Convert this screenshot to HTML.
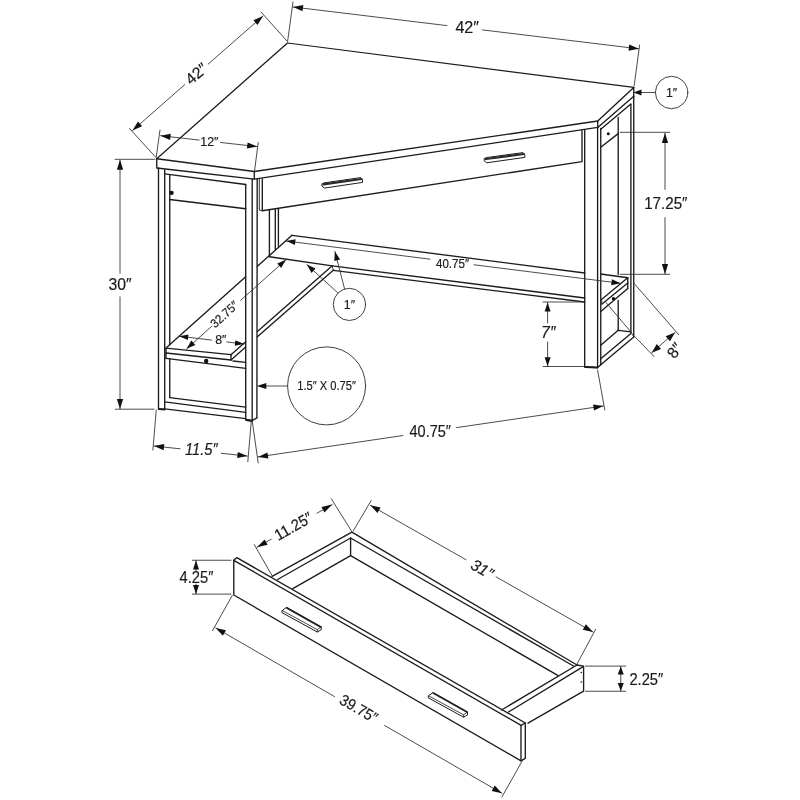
<!DOCTYPE html>
<html><head><meta charset="utf-8"><title>Corner desk dimensions</title>
<style>
html,body{margin:0;padding:0;background:#fff;}
body{width:800px;height:800px;overflow:hidden;}
svg{display:block;filter:grayscale(1);}
text{font-family:"Liberation Sans",sans-serif;fill:#1a1a1a;stroke:#1a1a1a;}
</style></head><body>
<svg width="800" height="800" viewBox="0 0 800 800" stroke-linecap="round" stroke-linejoin="round">
<rect width="800" height="800" fill="#fff"/>
<path d="M156.75 158.75 L287.50 43.00 L633.75 87.40" stroke="#1c1c1c" stroke-width="1.25" fill="none"/>
<path d="M633.75 87.40 L597.75 121.00 L254.30 171.50 L156.75 158.75" stroke="#1c1c1c" stroke-width="1.35" fill="none"/>
<path d="M156.75 158.75 L156.75 168.00 L254.30 179.20 L597.75 127.40" stroke="#1c1c1c" stroke-width="1.35" fill="none"/>
<path d="M254.30 171.50 L254.30 179.20" stroke="#1c1c1c" stroke-width="1.35" fill="none"/>
<path d="M597.75 121.00 L597.75 127.40" stroke="#1c1c1c" stroke-width="1.35" fill="none"/>
<path d="M597.75 127.40 L633.75 96.30" stroke="#1c1c1c" stroke-width="1.35" fill="none"/>
<path d="M633.75 87.40 L633.75 96.30" stroke="#1c1c1c" stroke-width="1.35" fill="none"/>
<path d="M158.50 168.00 L158.50 409.00 L164.70 409.30" stroke="#1c1c1c" stroke-width="1.35" fill="none"/>
<path d="M164.70 170.00 L164.70 409.00" stroke="#1c1c1c" stroke-width="1.35" fill="none"/>
<path d="M169.75 175.50 L169.75 344.80" stroke="#1c1c1c" stroke-width="1.35" fill="none"/>
<path d="M169.75 359.00 L169.75 397.60" stroke="#1c1c1c" stroke-width="1.35" fill="none"/>
<path d="M245.70 184.50 L245.70 419.60" stroke="#1c1c1c" stroke-width="1.35" fill="none"/>
<path d="M252.20 179.20 L252.20 420.60" stroke="#1c1c1c" stroke-width="1.35" fill="none"/>
<path d="M257.20 179.20 L256.90 417.80" stroke="#1c1c1c" stroke-width="1.35" fill="none"/>
<path d="M245.70 419.60 L252.20 420.60 L256.90 417.80" stroke="#1c1c1c" stroke-width="1.35" fill="none"/>
<path d="M246.30 419.90 L252.00 420.80" stroke="#1c1c1c" stroke-width="2.2" fill="none"/>
<path d="M159.00 409.00 L164.40 409.40" stroke="#1c1c1c" stroke-width="2.0" fill="none"/>
<path d="M164.70 173.80 L245.70 184.50" stroke="#1c1c1c" stroke-width="1.35" fill="none"/>
<path d="M169.75 199.50 L245.70 208.75" stroke="#1c1c1c" stroke-width="1.35" fill="none"/>
<circle cx="171.6" cy="192.9" r="2.1" fill="#111"/>
<path d="M169.75 397.60 L245.70 407.10" stroke="#1c1c1c" stroke-width="1.35" fill="none"/>
<path d="M164.70 401.90 L245.70 412.40" stroke="#1c1c1c" stroke-width="1.35" fill="none"/>
<path d="M164.70 408.90 L245.70 418.60" stroke="#1c1c1c" stroke-width="1.35" fill="none"/>
<path d="M166.00 358.40 L245.70 368.40" stroke="#1c1c1c" stroke-width="1.35" fill="none"/>
<path d="M166.00 348.30 L166.00 358.40" stroke="#1c1c1c" stroke-width="1.35" fill="none"/>
<path d="M233.00 361.00 L245.70 362.30" stroke="#1c1c1c" stroke-width="1.35" fill="none"/>
<circle cx="206.2" cy="361" r="2.2" fill="#111"/>
<path d="M292.00 235.30 L584.70 273.00" stroke="#1c1c1c" stroke-width="1.35" fill="none"/>
<path d="M600.75 274.00 L627.75 277.75" stroke="#1c1c1c" stroke-width="1.35" fill="none"/>
<path d="M292.00 235.30 L257.40 266.28" stroke="#1c1c1c" stroke-width="1.35" fill="none"/>
<path d="M245.70 276.75 L166.00 348.10" stroke="#1c1c1c" stroke-width="1.35" fill="none"/>
<path d="M166.00 348.10 L231.00 354.70" stroke="#1c1c1c" stroke-width="1.35" fill="none"/>
<path d="M166.00 353.00 L231.00 360.00" stroke="#1c1c1c" stroke-width="1.35" fill="none"/>
<path d="M231.00 354.70 L231.00 360.00" stroke="#1c1c1c" stroke-width="1.35" fill="none"/>
<path d="M231.00 354.70 L245.70 341.80" stroke="#1c1c1c" stroke-width="1.35" fill="none"/>
<path d="M257.40 331.53 L332.25 265.85" stroke="#1c1c1c" stroke-width="1.35" fill="none"/>
<path d="M231.00 360.00 L245.70 347.11" stroke="#1c1c1c" stroke-width="1.35" fill="none"/>
<path d="M257.40 336.85 L333.30 270.30" stroke="#1c1c1c" stroke-width="1.35" fill="none"/>
<path d="M269.40 256.75 L332.25 265.85 L584.70 298.04" stroke="#1c1c1c" stroke-width="1.35" fill="none"/>
<path d="M333.30 270.30 L584.70 302.03" stroke="#1c1c1c" stroke-width="1.35" fill="none"/>
<path d="M332.25 265.85 L333.30 270.30" stroke="#1c1c1c" stroke-width="0.8" fill="none"/>
<path d="M269.40 210.50 L269.40 256.20" stroke="#1c1c1c" stroke-width="1.35" fill="none"/>
<path d="M275.30 209.60 L275.30 249.50" stroke="#1c1c1c" stroke-width="1.35" fill="none"/>
<path d="M278.40 209.20 L278.40 246.30" stroke="#1c1c1c" stroke-width="1.35" fill="none"/>
<path d="M259.30 179.30 L259.30 210.20 L262.30 210.75" stroke="#1c1c1c" stroke-width="0.9" fill="none"/>
<path d="M262.30 179.00 L262.30 210.75 L582.00 161.60 L582.00 130.60" stroke="#1c1c1c" stroke-width="1.35" fill="none"/>
<path d="M322.25 183.75 L324.00 182.90 L360.75 177.60 L362.50 179.80 L362.50 182.40 L324.40 188.10 L322.25 186.40 Z" stroke="#1c1c1c" stroke-width="1.0" fill="#fff"/>
<path d="M323.60 184.30 L361.50 179.00" stroke="#2a2a2a" stroke-width="2.2" fill="none"/>
<path d="M484.55 158.45 L486.30 157.60 L523.05 152.60 L524.80 154.80 L524.80 157.40 L486.70 162.80 L484.55 161.10 Z" stroke="#1c1c1c" stroke-width="1.0" fill="#fff"/>
<path d="M485.90 159.00 L523.80 154.00" stroke="#2a2a2a" stroke-width="2.2" fill="none"/>
<path d="M584.70 130.20 L584.70 367.00 L597.60 367.60 L600.75 364.75" stroke="#1c1c1c" stroke-width="1.35" fill="none"/>
<path d="M585.30 367.10 L597.30 367.60" stroke="#1c1c1c" stroke-width="2.0" fill="none"/>
<path d="M597.60 127.40 L597.60 367.60" stroke="#1c1c1c" stroke-width="1.35" fill="none"/>
<path d="M600.75 128.50 L600.75 364.75" stroke="#1c1c1c" stroke-width="1.35" fill="none"/>
<path d="M618.20 117.50 L618.20 274.50" stroke="#1c1c1c" stroke-width="1.35" fill="none"/>
<path d="M618.20 300.50 L618.20 330.30" stroke="#1c1c1c" stroke-width="1.35" fill="none"/>
<path d="M630.90 104.50 L630.90 332.00" stroke="#1c1c1c" stroke-width="1.35" fill="none"/>
<path d="M633.75 96.30 L633.75 337.00 L600.75 364.75" stroke="#1c1c1c" stroke-width="1.35" fill="none"/>
<path d="M600.75 129.25 L630.90 104.00" stroke="#1c1c1c" stroke-width="1.35" fill="none"/>
<path d="M600.75 147.25 L618.20 133.60" stroke="#1c1c1c" stroke-width="1.35" fill="none"/>
<circle cx="608.3" cy="133.8" r="1.5" fill="#111"/>
<path d="M600.75 345.30 L618.20 330.30 L630.90 331.80" stroke="#1c1c1c" stroke-width="1.35" fill="none"/>
<path d="M600.75 358.80 L630.90 333.40" stroke="#1c1c1c" stroke-width="1.35" fill="none"/>
<path d="M630.90 331.80 L633.75 337.00" stroke="#1c1c1c" stroke-width="0.8" fill="none"/>
<path d="M627.75 277.75 L601.50 299.50" stroke="#1c1c1c" stroke-width="1.35" fill="none"/>
<path d="M627.75 277.75 L627.75 288.50" stroke="#1c1c1c" stroke-width="1.35" fill="none"/>
<path d="M627.75 283.00 L602.00 304.00" stroke="#1c1c1c" stroke-width="1.35" fill="none"/>
<path d="M627.75 288.50 L600.75 311.50" stroke="#1c1c1c" stroke-width="1.35" fill="none"/>
<path d="M601.50 299.50 L602.00 304.00" stroke="#1c1c1c" stroke-width="0.8" fill="none"/>
<circle cx="613.5" cy="298.8" r="1.8" fill="#111"/>
<path d="M606.00 302.50 L630.75 331.75" stroke="#383838" stroke-width="0.9" fill="none"/>
<path d="M155.50 157.00 L129.50 128.50" stroke="#383838" stroke-width="0.9" fill="none"/>
<path d="M287.00 41.00 L261.00 12.00" stroke="#383838" stroke-width="0.9" fill="none"/>
<path d="M132.50 130.50 L184.70 84.70" stroke="#383838" stroke-width="0.9" fill="none"/>
<path d="M208.19 64.09 L263.00 16.00" stroke="#383838" stroke-width="0.9" fill="none"/>
<path d="M132.50 130.50 L137.97 121.57 L142.06 126.23 Z" fill="#111"/>
<path d="M263.00 16.00 L257.53 24.93 L253.44 20.27 Z" fill="#111"/>
<text x="0" y="5.61" text-anchor="middle" style="font-size:15.8px;stroke-width:0.18px;" transform="translate(196.30 73.60) rotate(-41) scale(1.02 1)">42″</text>
<path d="M287.60 41.50 L293.00 2.00" stroke="#383838" stroke-width="0.9" fill="none"/>
<path d="M634.20 85.50 L639.60 45.00" stroke="#383838" stroke-width="0.9" fill="none"/>
<path d="M293.00 7.00 L446.88 25.60" stroke="#383838" stroke-width="0.9" fill="none"/>
<path d="M482.50 29.91 L638.80 48.80" stroke="#383838" stroke-width="0.9" fill="none"/>
<path d="M293.00 7.00 L303.30 5.12 L302.56 11.28 Z" fill="#111"/>
<path d="M638.80 48.80 L628.50 50.68 L629.24 44.52 Z" fill="#111"/>
<text x="0" y="5.61" text-anchor="middle" style="font-size:15.8px;stroke-width:0.18px;" transform="translate(467.20 27.40) scale(1.02 1)">42″</text>
<path d="M156.20 157.50 L160.00 130.00" stroke="#383838" stroke-width="0.9" fill="none"/>
<path d="M254.60 170.50 L258.20 142.50" stroke="#383838" stroke-width="0.9" fill="none"/>
<path d="M160.50 135.70 L199.18 140.06" stroke="#383838" stroke-width="0.9" fill="none"/>
<path d="M220.45 142.46 L257.20 146.60" stroke="#383838" stroke-width="0.9" fill="none"/>
<path d="M160.50 135.70 L170.78 133.74 L170.09 139.90 Z" fill="#111"/>
<path d="M257.20 146.60 L246.92 148.56 L247.61 142.40 Z" fill="#111"/>
<text x="0" y="4.40" text-anchor="middle" style="font-size:12.4px;stroke-width:0.18px;" transform="translate(209.40 141.40) scale(1.0 1)">12″</text>
<path d="M115.00 159.30 L155.00 159.30" stroke="#383838" stroke-width="0.9" fill="none"/>
<path d="M115.30 409.20 L154.00 409.20" stroke="#383838" stroke-width="0.9" fill="none"/>
<path d="M120.00 159.80 L120.00 273.14" stroke="#383838" stroke-width="0.9" fill="none"/>
<path d="M120.00 296.81 L120.00 408.90" stroke="#383838" stroke-width="0.9" fill="none"/>
<path d="M120.00 159.80 L123.10 169.80 L116.90 169.80 Z" fill="#111"/>
<path d="M120.00 408.90 L116.90 398.90 L123.10 398.90 Z" fill="#111"/>
<text x="0" y="5.61" text-anchor="middle" style="font-size:15.8px;stroke-width:0.18px;" transform="translate(120.00 284.00) scale(1.0 1)">30″</text>
<circle cx="671.6" cy="92.5" r="16.2" stroke="#2a2a2a" stroke-width="0.9" fill="#fff"/>
<path d="M655.40 92.50 L640.00 92.50" stroke="#383838" stroke-width="0.9" fill="none"/>
<path d="M633.50 92.50 L641.50 89.50 L641.50 95.50 Z" fill="#111"/>
<text x="0" y="4.40" text-anchor="middle" style="font-size:12.4px;stroke-width:0.18px;" transform="translate(671.60 92.60) scale(1.0 1)">1″</text>
<path d="M620.30 132.30 L669.80 132.30" stroke="#383838" stroke-width="0.9" fill="none"/>
<path d="M620.30 274.30 L669.80 274.30" stroke="#383838" stroke-width="0.9" fill="none"/>
<path d="M665.00 133.00 L665.00 189.40" stroke="#383838" stroke-width="0.9" fill="none"/>
<path d="M665.00 217.60 L665.00 274.00" stroke="#383838" stroke-width="0.9" fill="none"/>
<path d="M665.00 133.00 L668.10 143.00 L661.90 143.00 Z" fill="#111"/>
<path d="M665.00 274.00 L661.90 264.00 L668.10 264.00 Z" fill="#111"/>
<text x="0" y="5.61" text-anchor="middle" style="font-size:15.8px;stroke-width:0.18px;" transform="translate(665.80 203.00) scale(0.96 1)">17.25″</text>
<path d="M633.75 283.00 L678.75 334.75" stroke="#383838" stroke-width="0.9" fill="none"/>
<path d="M633.75 335.50 L654.00 356.50" stroke="#383838" stroke-width="0.9" fill="none"/>
<path d="M651.75 352.75 L675.00 332.50" stroke="#383838" stroke-width="0.9" fill="none"/>
<path d="M651.75 352.75 L656.75 344.02 L661.08 349.00 Z" fill="#111"/>
<path d="M675.00 332.50 L670.00 341.23 L665.67 336.25 Z" fill="#111"/>
<text x="0" y="5.61" text-anchor="middle" style="font-size:15.8px;stroke-width:0.18px;" transform="translate(674.60 350.30) rotate(-52) scale(1.0 1)">8″</text>
<path d="M543.00 302.00 L584.00 302.00" stroke="#383838" stroke-width="0.9" fill="none"/>
<path d="M543.00 366.50 L584.00 366.50" stroke="#383838" stroke-width="0.9" fill="none"/>
<path d="M547.60 302.40 L547.60 322.82" stroke="#383838" stroke-width="0.9" fill="none"/>
<path d="M547.60 341.96 L547.60 366.20" stroke="#383838" stroke-width="0.9" fill="none"/>
<path d="M547.60 302.40 L550.60 311.40 L544.60 311.40 Z" fill="#111"/>
<path d="M547.60 366.20 L544.60 357.20 L550.60 357.20 Z" fill="#111"/>
<text x="0" y="5.61" text-anchor="middle" style="font-size:15.8px;stroke-width:0.18px;font-style:italic;" transform="translate(548.30 332.50) scale(1.0 1)">7″</text>
<path d="M286.30 241.00 L430.00 259.19" stroke="#383838" stroke-width="0.9" fill="none"/>
<path d="M474.00 264.76 L620.50 283.30" stroke="#383838" stroke-width="0.9" fill="none"/>
<path d="M286.30 241.00 L295.61 239.15 L294.85 245.11 Z" fill="#111"/>
<path d="M620.50 283.30 L611.19 285.15 L611.95 279.19 Z" fill="#111"/>
<text x="0" y="4.40" text-anchor="middle" style="font-size:12.4px;stroke-width:0.18px;" transform="translate(452.50 263.40) scale(0.93 1)">40.75″</text>
<path d="M186.60 348.80 L211.92 326.11" stroke="#383838" stroke-width="0.9" fill="none"/>
<path d="M240.72 300.30 L285.90 259.80" stroke="#383838" stroke-width="0.9" fill="none"/>
<path d="M186.60 348.80 L191.30 340.56 L195.30 345.03 Z" fill="#111"/>
<path d="M285.90 259.80 L281.20 268.04 L277.20 263.57 Z" fill="#111"/>
<text x="0" y="4.40" text-anchor="middle" style="font-size:12.4px;stroke-width:0.18px;" transform="translate(224.20 314.20) rotate(-42) scale(0.93 1)">32.75″</text>
<path d="M179.20 336.20 L211.60 340.10" stroke="#383838" stroke-width="0.9" fill="none"/>
<path d="M226.83 341.93 L244.00 344.00" stroke="#383838" stroke-width="0.9" fill="none"/>
<path d="M179.20 336.20 L188.47 334.50 L187.80 340.06 Z" fill="#111"/>
<path d="M244.00 344.00 L234.73 345.70 L235.40 340.14 Z" fill="#111"/>
<text x="0" y="4.40" text-anchor="middle" style="font-size:12.4px;stroke-width:0.18px;" transform="translate(220.80 339.70) scale(1.0 1)">8″</text>
<circle cx="349.4" cy="304.4" r="16.1" stroke="#2a2a2a" stroke-width="0.9" fill="#fff"/>
<path d="M337.50 292.60 L306.90 264.60" stroke="#383838" stroke-width="0.9" fill="none"/>
<path d="M306.90 264.60 L315.56 268.46 L311.51 272.89 Z" fill="#111"/>
<path d="M344.50 288.60 L334.90 251.50" stroke="#383838" stroke-width="0.9" fill="none"/>
<path d="M334.90 251.50 L340.06 259.46 L334.25 260.96 Z" fill="#111"/>
<text x="0" y="4.40" text-anchor="middle" style="font-size:12.4px;stroke-width:0.18px;" transform="translate(349.40 304.60) scale(1.0 1)">1″</text>
<circle cx="326.6" cy="385.9" r="39" stroke="#2a2a2a" stroke-width="0.9" fill="#fff"/>
<path d="M287.60 386.00 L266.00 386.00" stroke="#383838" stroke-width="0.9" fill="none"/>
<path d="M256.80 386.00 L266.30 383.00 L266.30 389.00 Z" fill="#111"/>
<text x="0" y="4.26" text-anchor="middle" style="font-size:12.0px;stroke-width:0.18px;" transform="translate(326.60 385.80) scale(0.93 1)">1.5″ X 0.75″</text>
<path d="M156.25 410.00 L152.90 450.00" stroke="#383838" stroke-width="0.9" fill="none"/>
<path d="M251.20 422.40 L247.80 461.75" stroke="#383838" stroke-width="0.9" fill="none"/>
<path d="M154.00 446.00 L180.15 448.83" stroke="#383838" stroke-width="0.9" fill="none"/>
<path d="M221.25 453.27 L247.40 456.10" stroke="#383838" stroke-width="0.9" fill="none"/>
<path d="M154.00 446.00 L164.28 443.99 L163.61 450.16 Z" fill="#111"/>
<path d="M247.40 456.10 L237.12 458.11 L237.79 451.94 Z" fill="#111"/>
<text x="0" y="5.61" text-anchor="middle" style="font-size:15.8px;stroke-width:0.18px;font-style:italic;" transform="translate(201.25 449.80) scale(0.93 1)">11.5″</text>
<path d="M252.40 422.40 L258.20 462.90" stroke="#383838" stroke-width="0.9" fill="none"/>
<path d="M597.60 370.00 L604.80 410.00" stroke="#383838" stroke-width="0.9" fill="none"/>
<path d="M258.00 456.90 L403.07 435.52" stroke="#383838" stroke-width="0.9" fill="none"/>
<path d="M456.60 427.63 L603.40 406.00" stroke="#383838" stroke-width="0.9" fill="none"/>
<path d="M258.00 456.90 L267.44 452.38 L268.35 458.51 Z" fill="#111"/>
<path d="M603.40 406.00 L593.96 410.52 L593.05 404.39 Z" fill="#111"/>
<text x="0" y="5.54" text-anchor="middle" style="font-size:15.6px;stroke-width:0.18px;" transform="translate(430.20 431.70) scale(0.93 1)">40.75″</text>
<path d="M233.80 560.30 L233.80 595.00 L521.00 760.80 L521.00 725.30 Z" stroke="#1c1c1c" stroke-width="1.35" fill="none"/>
<path d="M233.80 560.30 L236.80 557.60 L525.30 723.00 L525.30 758.30 L521.00 760.80" stroke="#1c1c1c" stroke-width="1.35" fill="none"/>
<path d="M521.00 725.30 L525.30 723.00" stroke="#1c1c1c" stroke-width="1.35" fill="none"/>
<path d="M272.10 576.30 L351.90 532.20 L577.00 665.00" stroke="#1c1c1c" stroke-width="1.35" fill="none"/>
<path d="M577.00 665.00 L583.60 666.20 L583.60 691.20 L528.00 723.20" stroke="#1c1c1c" stroke-width="1.35" fill="none"/>
<path d="M577.00 665.00 L501.50 710.00" stroke="#1c1c1c" stroke-width="1.35" fill="none"/>
<path d="M583.20 666.60 L508.50 712.00" stroke="#1c1c1c" stroke-width="1.35" fill="none"/>
<path d="M277.60 579.50 L350.60 538.00 L573.50 666.00" stroke="#1c1c1c" stroke-width="1.35" fill="none"/>
<path d="M350.60 538.00 L350.60 555.60" stroke="#1c1c1c" stroke-width="1.35" fill="none"/>
<path d="M292.80 588.60 L350.60 555.60 L557.70 675.40" stroke="#1c1c1c" stroke-width="1.35" fill="none"/>
<circle cx="581.3" cy="672.5" r="0.8" fill="#111"/>
<circle cx="581.3" cy="682" r="0.8" fill="#111"/>
<path d="M282.30 610.60 L286.60 607.30 L321.20 626.80 L321.20 629.80 L317.30 632.00 L282.30 612.80 Z" stroke="#1c1c1c" stroke-width="1.0" fill="#fff"/>
<path d="M282.30 610.60 L317.30 629.60 L321.20 626.80" stroke="#1c1c1c" stroke-width="0.8" fill="none"/>
<path d="M317.30 629.60 L317.30 632.00" stroke="#1c1c1c" stroke-width="0.8" fill="none"/>
<path d="M286.90 607.90 L320.60 626.90" stroke="#222" stroke-width="1.7" fill="none"/>
<path d="M428.60 695.80 L432.90 692.50 L467.50 712.00 L467.50 715.00 L463.60 717.20 L428.60 698.00 Z" stroke="#1c1c1c" stroke-width="1.0" fill="#fff"/>
<path d="M428.60 695.80 L463.60 714.80 L467.50 712.00" stroke="#1c1c1c" stroke-width="0.8" fill="none"/>
<path d="M463.60 714.80 L463.60 717.20" stroke="#1c1c1c" stroke-width="0.8" fill="none"/>
<path d="M433.20 693.10 L466.90 712.10" stroke="#222" stroke-width="1.7" fill="none"/>
<path d="M192.40 560.25 L230.90 560.25" stroke="#383838" stroke-width="0.9" fill="none"/>
<path d="M192.40 594.10 L230.90 594.10" stroke="#383838" stroke-width="0.9" fill="none"/>
<path d="M196.00 560.60 L196.00 570.62" stroke="#383838" stroke-width="0.9" fill="none"/>
<path d="M196.00 583.98 L196.00 594.00" stroke="#383838" stroke-width="0.9" fill="none"/>
<path d="M196.00 560.60 L199.00 569.60 L193.00 569.60 Z" fill="#111"/>
<path d="M196.00 594.00 L193.00 585.00 L199.00 585.00 Z" fill="#111"/>
<text x="0" y="5.61" text-anchor="middle" style="font-size:15.8px;stroke-width:0.18px;" transform="translate(196.50 577.00) scale(0.93 1)">4.25″</text>
<path d="M272.10 575.70 L254.25 544.60" stroke="#383838" stroke-width="0.9" fill="none"/>
<path d="M351.90 531.70 L331.25 498.70" stroke="#383838" stroke-width="0.9" fill="none"/>
<path d="M257.00 547.30 L271.27 539.19" stroke="#383838" stroke-width="0.9" fill="none"/>
<path d="M317.08 513.14 L332.10 504.60" stroke="#383838" stroke-width="0.9" fill="none"/>
<path d="M257.00 547.30 L264.60 539.42 L267.66 544.81 Z" fill="#111"/>
<path d="M332.10 504.60 L324.50 512.48 L321.44 507.09 Z" fill="#111"/>
<text x="0" y="5.61" text-anchor="middle" style="font-size:15.8px;stroke-width:0.18px;" transform="translate(293.30 526.00) rotate(-29.5) scale(0.93 1)">11.25″</text>
<path d="M353.25 530.90 L371.10 500.60" stroke="#383838" stroke-width="0.9" fill="none"/>
<path d="M576.90 664.25 L595.60 629.40" stroke="#383838" stroke-width="0.9" fill="none"/>
<path d="M370.30 505.30 L466.06 559.78" stroke="#383838" stroke-width="0.9" fill="none"/>
<path d="M496.13 576.89 L593.00 632.00" stroke="#383838" stroke-width="0.9" fill="none"/>
<path d="M370.30 505.30 L380.52 507.55 L377.46 512.94 Z" fill="#111"/>
<path d="M593.00 632.00 L582.78 629.75 L585.84 624.36 Z" fill="#111"/>
<text x="0" y="5.61" text-anchor="middle" style="font-size:15.8px;stroke-width:0.18px;font-style:italic;" transform="translate(482.30 568.80) rotate(29.6) scale(1.0 1)">31″</text>
<path d="M232.25 595.50 L212.50 630.70" stroke="#383838" stroke-width="0.9" fill="none"/>
<path d="M521.75 761.75 L501.90 797.00" stroke="#383838" stroke-width="0.9" fill="none"/>
<path d="M215.75 628.00 L334.50 696.56" stroke="#383838" stroke-width="0.9" fill="none"/>
<path d="M384.58 725.47 L501.90 793.20" stroke="#383838" stroke-width="0.9" fill="none"/>
<path d="M215.75 628.00 L225.96 630.32 L222.86 635.68 Z" fill="#111"/>
<path d="M501.90 793.20 L491.69 790.88 L494.79 785.52 Z" fill="#111"/>
<text x="0" y="5.50" text-anchor="middle" style="font-size:15.5px;stroke-width:0.18px;" transform="translate(358.90 708.40) rotate(29.9) scale(0.93 1)">39.75″</text>
<path d="M585.50 666.10 L625.60 666.10" stroke="#383838" stroke-width="0.9" fill="none"/>
<path d="M585.50 691.25 L625.60 691.25" stroke="#383838" stroke-width="0.9" fill="none"/>
<path d="M620.75 666.50 L620.75 691.00" stroke="#383838" stroke-width="0.9" fill="none"/>
<path d="M620.75 666.50 L623.75 674.50 L617.75 674.50 Z" fill="#111"/>
<path d="M620.75 691.00 L617.75 683.00 L623.75 683.00 Z" fill="#111"/>
<text x="0" y="5.61" text-anchor="middle" style="font-size:15.8px;stroke-width:0.18px;" transform="translate(646.30 679.30) scale(0.93 1)">2.25″</text>
</svg>
</body></html>
